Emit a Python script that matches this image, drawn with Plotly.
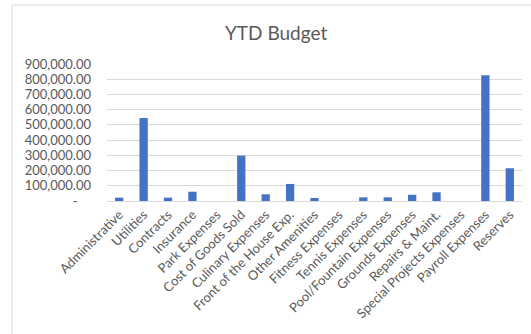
import plotly.graph_objects as go

categories = ["Administrative", "Utilities", "Contracts", "Insurance", "Park Expenses",
              "Cost of Goods Sold", "Culinary Expenses", "Front of the House Exp.",
              "Other Amenities", "Fitness Expenses", "Tennis Expenses",
              "Pool/Fountain Expenses", "Grounds Expenses", "Repairs & Maint.",
              "Special Projects Expenses", "Payroll Expenses", "Reserves"]
values = [22000, 545000, 22000, 61000, 0, 298000, 44000, 112000, 20000, 0,
          24000, 24000, 41000, 57000, 0, 826000, 215000]
tick_vals = [0, 100000, 200000, 300000, 400000, 500000, 600000, 700000, 800000, 900000]
tick_text = ["-\u00a0\u00a0\u00a0\u00a0", "100,000.00", "200,000.00", "300,000.00", "400,000.00",
             "500,000.00", "600,000.00", "700,000.00", "800,000.00", "900,000.00"]

font_family = "Lato, 'Open Sans', sans-serif"
grey = "#595959"

fig = go.Figure(go.Bar(x=categories, y=values, marker_color="#4472C4",
                       marker_line_width=0))

fig.update_layout(
    width=531, height=334,
    margin=dict(l=107, r=9, t=64, b=133),
    paper_bgcolor="white", plot_bgcolor="white",
    bargap=0.66,
    showlegend=False,
    title=dict(text="YTD Budget", x=0.52, xanchor="center", y=0.9, yanchor="middle",
               font=dict(family=font_family, size=19, color=grey)),
    font=dict(family=font_family, size=13, color=grey),
    shapes=[
        dict(type="line", xref="paper", yref="paper", x0=-0.229, x1=1.1, y0=1.43, y1=1.43,
             line=dict(color="#d9d9d9", width=1)),
        dict(type="line", xref="paper", yref="paper", x0=-0.229, x1=-0.229, y0=1.43, y1=-1.2,
             line=dict(color="#d9d9d9", width=1)),
    ],
)
fig.update_xaxes(tickangle=-45, showgrid=False, showline=True, linecolor="#d9d9d9",
                 linewidth=1, ticks="", tickfont=dict(size=13, color=grey))
fig.update_yaxes(range=[0, 900000], tickvals=tick_vals, ticktext=tick_text,
                 showgrid=True, gridcolor="#d9d9d9", gridwidth=1, zeroline=False,
                 showline=False, ticks="", tickfont=dict(size=13, color=grey),
                 ticklabelstandoff=15)

fig.write_html("out.html")
